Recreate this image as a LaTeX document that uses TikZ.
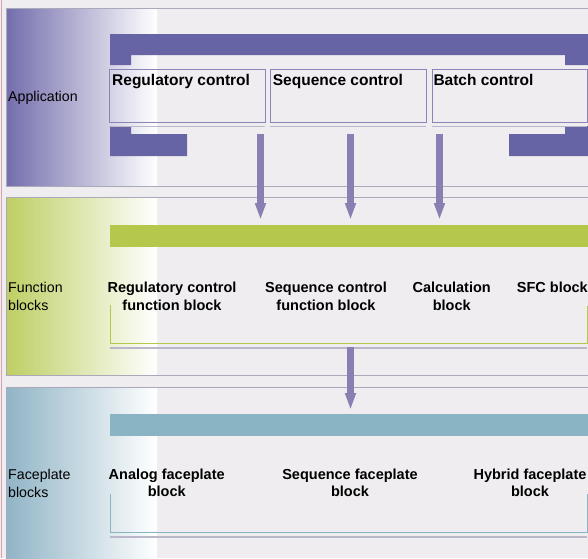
\documentclass[tikz,border=0pt]{standalone}
\usepackage{fontspec}
\setmainfont{Liberation Sans}
\usetikzlibrary{arrows.meta}
\definecolor{pagebg}{HTML}{EFEDF0}
\definecolor{bandline}{HTML}{A9A9B9}
\definecolor{appcol}{HTML}{6764A6}
\definecolor{appfade}{HTML}{736EAC}
\definecolor{flowcol}{HTML}{8A7EB2}
\definecolor{fbcol}{HTML}{B5C84B}
\definecolor{fbfade}{HTML}{BDCF63}
\definecolor{fpcol}{HTML}{8AB3C4}
\definecolor{fpfade}{HTML}{90B4C6}
\definecolor{boxline}{HTML}{8985B9}
\definecolor{shadowcol}{HTML}{B9B8CA}
\definecolor{edgecol}{HTML}{D7A2AC}

\begin{document}
\begin{tikzpicture}[x=1pt,y=-1pt]
\tikzstyle{band}=[draw=bandline,line width=0.8pt]
\tikzstyle{appbox}=[draw=boxline,line width=0.8pt,rectangle,minimum height=53pt,inner sep=0pt]
\tikzstyle{boxshadow}=[draw=shadowcol,line width=1.6pt]
\tikzstyle{boxtitle}=[anchor=base west,inner sep=0pt,font=\bfseries\fontsize{15.5}{18}\selectfont]
\tikzstyle{sidelabel}=[anchor=base west,align=left,inner sep=0pt,font=\fontsize{14.2}{17.5}\selectfont]
\tikzstyle{blocklabel}=[anchor=base,align=center,inner sep=0pt,font=\bfseries\fontsize{14.5}{17.5}\selectfont]
\tikzstyle{flow}=[draw=flowcol,line width=7.5pt,-{Triangle[width=10pt,length=17pt]}]
\useasboundingbox (0,0) rectangle (588,558);
\clip (0,0) rectangle (588,558);
\fill[pagebg] (0,0) rectangle (588,558);
\draw[edgecol,line width=1pt] (1.3,0) -- (1.3,558);

% Application
\shade[left color=appfade,right color=white] (6,8) rectangle (157,186);
\draw[band] (6,8) rectangle (600,186);
\fill[appcol] (110,34) -- (590,34) -- (590,65) -- (565,65) -- (565,55) -- (131,55) -- (131,65) -- (110,65) -- cycle;
\fill[appcol] (110,126) -- (131,126) -- (131,134) -- (187,134) -- (187,156) -- (110,156) -- cycle;
\fill[appcol] (590,126) -- (565,126) -- (565,134) -- (509,134) -- (509,156) -- (590,156) -- cycle;
\node[sidelabel] (applabel) at (8,101) {Application};
\node[appbox,minimum width=155.5pt] (regbox) at (187.3,95.5) {};
\node[appbox,minimum width=156pt] (seqbox) at (348,95.5) {};
\node[appbox,minimum width=155pt] (batbox) at (509.5,95.5) {};
\node[boxtitle] (regtitle) at (112,85) {Regulatory control};
\node[boxtitle] (seqtitle) at (272.7,85) {Sequence control};
\node[boxtitle] (battitle) at (433.3,85) {Batch control};
\draw[boxshadow] ([yshift=-4pt]regbox.south west) -- ([yshift=-4pt]regbox.south east);
\draw[boxshadow] ([yshift=-4pt]seqbox.south west) -- ([yshift=-4pt]seqbox.south east);
\draw[boxshadow] ([yshift=-4pt]batbox.south west) -- ([yshift=-4pt]batbox.south east);

% Function blocks
\shade[left color=fbfade,right color=white] (6,197) rectangle (157,375);
\draw[band] (6,197) rectangle (600,375);
\fill[fbcol] (110,225) rectangle (590,247);
\node[sidelabel] (fblabel) at (8,310) {Function\\blocks};
\node[blocklabel] (regfb) at (172,310) {Regulatory control\\function block};
\node[blocklabel] (seqfb) at (326,310) {Sequence control\\function block};
\node[blocklabel] (calcfb) at (451.7,310) {Calculation\\block};
\node[blocklabel,anchor=base west] (sfcfb) at (516.7,292) {SFC block};
\draw[fbcol,line width=1pt] (110,305) -- (110,343) -- (587,343) -- (587,306);
\draw[boxshadow] (110,348) -- (587,348);

% Faceplate blocks
\shade[left color=fpfade,right color=white] (6,387) rectangle (157,570);
\draw[band] (6,387) rectangle (600,570);
\fill[fpcol] (110,414) rectangle (590,436);
\node[sidelabel] (fplabel) at (8,497) {Faceplate\\blocks};
\node[blocklabel] (anafp) at (166.7,496.5) {Analog faceplate\\block};
\node[blocklabel] (seqfp) at (350,496.5) {Sequence faceplate\\block};
\node[blocklabel] (hybfp) at (530,496.5) {Hybrid faceplate\\block};
\draw[fpcol,line width=1pt] (110,494) -- (110,532) -- (587,532) -- (587,494);
\draw[boxshadow] (110,537) -- (587,537);

% flows
\coordinate (regout) at (260.5,134);
\coordinate (seqout) at (350.5,134);
\coordinate (batout) at (439.5,134);
\coordinate (regin) at (260.5,220);
\coordinate (seqin) at (350.5,220);
\coordinate (batin) at (439.5,220);
\coordinate (fbout) at (350.5,347);
\coordinate (fpin) at (350.5,410);
\draw[flow] (regout) -- (regin);
\draw[flow] (seqout) -- (seqin);
\draw[flow] (batout) -- (batin);
\draw[flow] (fbout) -- (fpin);
\end{tikzpicture}
\end{document}
